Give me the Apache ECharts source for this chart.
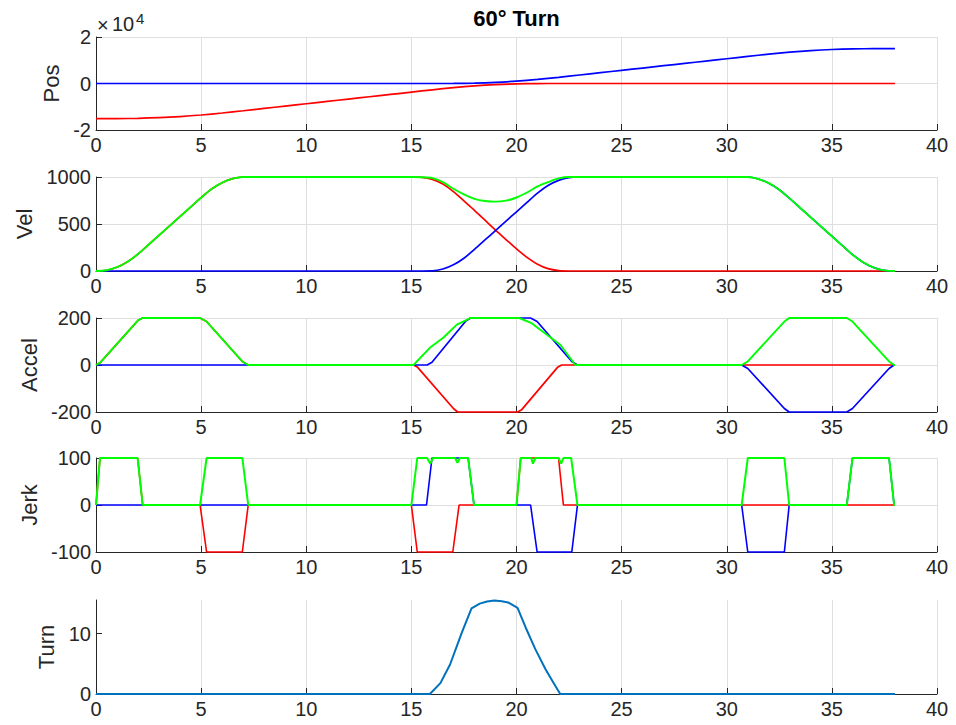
<!DOCTYPE html>
<html>
<head>
<meta charset="utf-8">
<script src="https://cdn.jsdelivr.net/npm/echarts@6/dist/echarts.min.js"></script>
<style>
html,body{margin:0;padding:0;background:#fff;}
#chart{width:956px;height:725px;}
</style>
</head>
<body>
<div id="chart"></div>
<script>
// ---------- DATA ----------
// Position (sampled every 1 s)
const posT = [0,1,2,3,4,5,6,7,8,9,10,11,12,13,14,15,16,17,18,19,20,21,22,23,24,25,26,27,28,29,30,31,32,33,34,35,36,37,38];
const posRed = [-15110,-15096,-14992,-14712,-14232,-13552,-12686,-11710,-10710,-9710,-8710,-7710,-6710,-5710,-4710,-3710,-2718,-1800,-1055,-515,-180,-31,0,0,0,0,0,0,0,0,0,0,0,0,0,0,0,0,0];
const posBlue = [0,0,0,0,0,0,0,0,0,0,0,0,0,0,0,0,0,27,169,499,1029,1759,2662,3650,4650,5650,6650,7650,8650,9650,10650,11650,12622,13480,14150,14620,14890,14988,15000];

// Velocity
const velRedT = [0,0.5,1,1.5,2,2.5,3,3.5,4,4.5,5,5.5,6,6.5,7,7.5,15,15.5,16,16.5,17,17.5,18,18.5,19,19.5,20,20.5,21,21.5,22,22.5,38];
const velRed  = [0,8,40,98,180,280,380,480,580,680,780,872,940,982,1000,1000,1000,997,975,925,845,745,645,540,435,335,235,145,72,25,4,0,0];
const velBlueT = [0,15.5,16,16.5,17,17.5,18,18.5,19,19.5,20,20.5,21,21.5,22,22.5,23,31,31.5,32,32.5,33,33.5,34,34.5,35,35.5,36,36.5,37,37.5,38];
const velBlue  = [0,0,1,21,66,136,230,330,430,530,630,730,829,909,964,994,1000,1000,979,934,864,770,670,570,470,370,270,171,91,36,6,0];
const velGreenT = [0,0.5,1,1.5,2,2.5,3,3.5,4,4.5,5,5.5,6,6.5,7,7.5,15,15.5,16,16.5,17,17.5,18,18.5,19,19.5,20,20.5,21,21.5,22,22.5,31,31.5,32,32.5,33,33.5,34,34.5,35,35.5,36,36.5,37,37.5,38];
const velGreen  = [0,8,40,98,180,280,380,480,580,680,780,872,940,982,1000,1000,1000,998,988,945,875,815,768,745,738,748,782,835,900,945,985,1000,1000,979,934,864,770,670,570,470,370,270,171,91,36,6,0];

// Acceleration (break points)
const accRedT = [0,0.2,2.0,2.22,4.95,5.26,6.96,7.24,15.1,15.3,17.0,17.2,20.05,20.25,21.95,22.15,38];
const accRed  = [0,10,190,200,200,185,15,0,0,-10,-185,-200,-200,-190,-10,0,0];
const accBlueT = [0,15.75,15.98,17.6,17.82,20.67,20.98,22.63,22.9,30.71,31.0,32.74,32.97,35.71,35.98,37.72,37.96,38];
const accBlue  = [0,0,12,188,200,200,185,15,0,0,-15,-185,-200,-200,-185,-15,0,0];
const accGreenT = [0,0.2,2.0,2.22,4.95,5.26,6.96,7.24,15.1,15.91,16.53,17.16,17.39,17.81,20.13,20.72,22.08,22.8,30.71,31.0,32.74,32.97,35.71,35.98,37.72,37.96,38];
const accGreen  = [0,10,190,200,200,185,15,0,0,76,117,172,181,200,200,178,86,0,0,15,185,200,200,185,15,0,0];

// Jerk (break points)
const jerkRedT = [0,0.19,1.98,2.22,4.95,5.26,6.96,7.24,15.0,15.28,16.97,17.27,20.0,20.2,22.0,22.23,38];
const jerkRed  = [0,100,100,0,0,-100,-100,0,0,-100,-100,0,0,100,100,0,0];
const jerkBlueT = [0,15.72,15.98,17.7,17.98,20.67,20.98,22.63,22.9,30.71,31.0,32.74,32.97,35.71,35.98,37.72,37.96,38];
const jerkBlue  = [0,0,100,100,0,0,-100,-100,0,0,-100,-100,0,0,100,100,0,0];
const jerkGreenT = [0,0.19,1.98,2.22,4.95,5.26,6.96,7.24,15.0,15.28,15.75,15.9,16.03,17.08,17.19,17.31,17.7,17.98,20.0,20.2,20.7,20.78,20.9,22.0,22.125,22.23,22.6,22.9,30.71,31.0,32.74,32.97,35.71,35.98,37.72,37.96,38];
const jerkGreen  = [0,100,100,0,0,100,100,0,0,100,100,88,100,100,90,100,100,0,0,100,100,88,100,100,88,100,100,0,0,100,100,0,0,100,100,0,0];

// Turn
const turnT = [0,15.88,16.38,16.84,17.39,17.86,18.25,18.6,18.95,19.3,19.6,20.05,20.44,20.9,21.38,21.75,22.08,38];
const turnV = [0,0,1.8,4.9,10.1,14.2,15.0,15.35,15.5,15.4,15.2,14.3,11.0,7.4,4.1,1.9,0,0];

const yNames = ['Pos','Vel','Accel','Jerk','Turn'];
const xTicks = {min:0, max:40, interval:5};

// ---------- CHART ----------
const FONT = '"Liberation Sans", Arial, Helvetica, sans-serif';
const AX = '#262626';
const GRIDC = '#dfdfdf';
const RED = '#ff0000', BLUE = '#0000ff', GREEN = '#00ff00', TURN = '#0072bd';

function pairs(t, v){ return t.map((x,i)=>[x, v[i]]); }

const tops = [37,177,318,458,600];
const heights = [93,94,94,94,94];
const grids = tops.map((tp,i)=>({left:96, width:841, top:tp, height:heights[i], containLabel:false}));

const xAxes = tops.map((_,i)=>({
  type:'value', gridIndex:i, min:xTicks.min, max:xTicks.max, interval:xTicks.interval,
  axisLine:{show:true, onZero:false, lineStyle:{color:AX, width:1}},
  axisTick:{show:true, inside:true, length:6, lineStyle:{color:AX}},
  axisLabel:{show:true, fontSize:20, color:AX, fontFamily:FONT, margin:5},
  splitLine:{show:true, lineStyle:{color:GRIDC, width:1}}
}));

const yCfg = [
  {min:-20000, max:20000, interval:20000, fmt:v=>String(Math.round(v/10000)), gap:26},
  {min:0, max:1000, interval:500, fmt:v=>String(v), gap:57},
  {min:-200, max:200, interval:200, fmt:v=>String(v), gap:53},
  {min:-100, max:100, interval:100, fmt:v=>String(v), gap:52},
  {min:0, max:15.6, interval:10, fmt:v=>String(v), gap:28}
];
const yAxes = yCfg.map((c,i)=>{
  const ax = {
    type:'value', gridIndex:i, min:c.min, max:c.max, interval:c.interval,
    name:yNames[i], nameLocation:'middle', nameRotate:90, nameGap:c.gap,
    nameTextStyle:{fontSize:22, color:AX, fontFamily:FONT},
    axisLine:{show:true, onZero:false, lineStyle:{color:AX, width:1}},
    axisTick:{show:true, inside:true, length:6, lineStyle:{color:AX}},
    axisLabel:{show:true, fontSize:20, color:AX, fontFamily:FONT, margin:5, formatter:c.fmt},
    splitLine:{show:true, lineStyle:{color:GRIDC, width:1}}
  };
  if (i === 4) {
    ax.axisLabel.customValues = [0,10];
    ax.axisTick.customValues = [0,10];
    ax.splitLine.showMaxLine = false;
  }
  return ax;
});

function line(idx, data, color, smooth, w){
  return {type:'line', xAxisIndex:idx, yAxisIndex:idx, data:data, showSymbol:false, symbol:'none',
    smooth: smooth ? 0.3 : false, clip:false, animation:false,
    lineStyle:{color:color, width:w || 1.7}, itemStyle:{color:color}, emphasis:{disabled:true}};
}

const series = [
  line(0, pairs(posT,posRed), RED, true),
  line(0, pairs(posT,posBlue), BLUE, true),
  line(1, pairs(velRedT,velRed), RED, true),
  line(1, pairs(velBlueT,velBlue), BLUE, true),
  line(1, pairs(velGreenT,velGreen), GREEN, true, 1.9),
  line(2, pairs(accRedT,accRed), RED, false),
  line(2, pairs(accBlueT,accBlue), BLUE, false),
  line(2, pairs(accGreenT,accGreen), GREEN, false, 1.9),
  line(3, pairs(jerkRedT,jerkRed), RED, false, 1.6),
  line(3, pairs(jerkBlueT,jerkBlue), BLUE, false, 1.6),
  line(3, pairs(jerkGreenT,jerkGreen), GREEN, false, 2.0),
  line(4, pairs(turnT,turnV), TURN, false, 2.0)
];

const chart = echarts.init(document.getElementById('chart'), null, {renderer:'svg', width:956, height:725});
chart.setOption({
  backgroundColor:'#ffffff',
  animation:false,
  grid:grids, xAxis:xAxes, yAxis:yAxes, series:series,
  graphic:[
    {type:'text', x:516.5, y:18, style:{text:'60° Turn', font:'bold 22px ' + FONT, fill:'#000', align:'center', verticalAlign:'middle', textAlign:'center', textVerticalAlign:'middle'}},
    {type:'text', x:97, y:25, style:{text:'×', font:'20px ' + FONT, fill:AX, align:'left', verticalAlign:'middle', textAlign:'left', textVerticalAlign:'middle'}},
    {type:'text', x:112, y:24, style:{text:'10', font:'20px ' + FONT, fill:AX, align:'left', verticalAlign:'middle', textAlign:'left', textVerticalAlign:'middle'}},
    {type:'text', x:136, y:18, style:{text:'4', font:'15px ' + FONT, fill:AX, align:'left', verticalAlign:'middle', textAlign:'left', textVerticalAlign:'middle'}}
  ]
});
</script>
</body>
</html>
